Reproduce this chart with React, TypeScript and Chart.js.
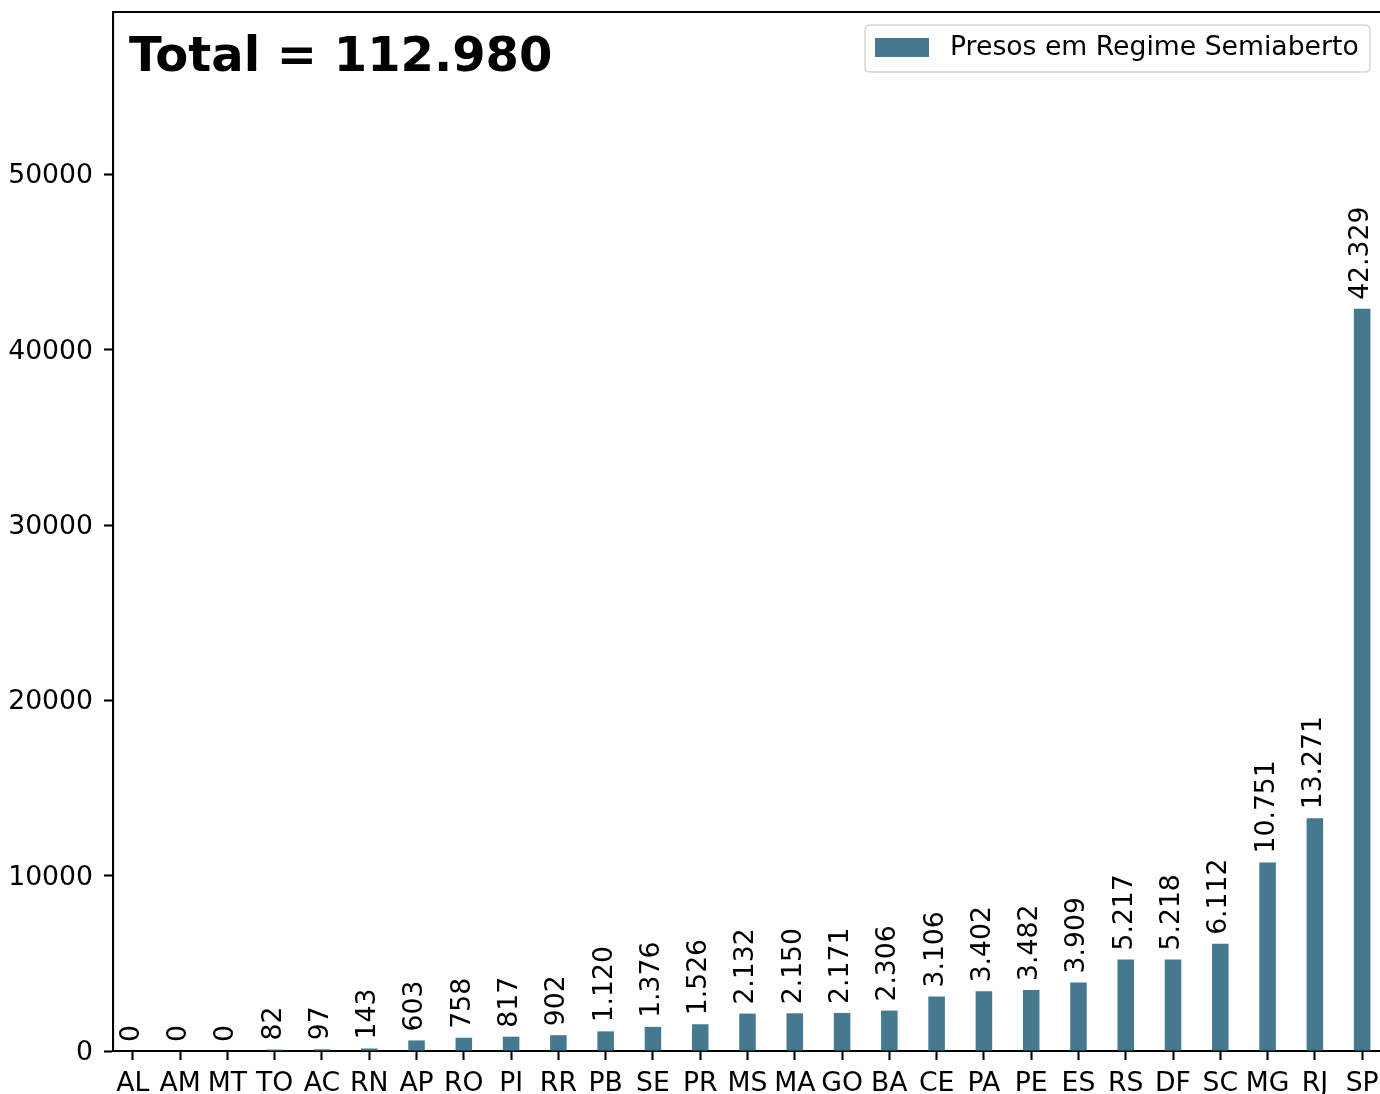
import React, { useEffect, useRef } from 'react';
import { Chart, registerables } from 'chart.js';

Chart.register(...registerables);

const categories = ['AL', 'AM', 'MT', 'TO', 'AC', 'RN', 'AP', 'RO', 'PI', 'RR', 'PB', 'SE', 'PR', 'MS', 'MA', 'GO', 'BA', 'CE', 'PA', 'PE', 'ES', 'RS', 'DF', 'SC', 'MG', 'RJ', 'SP'];
const values = [0, 0, 0, 82, 97, 143, 603, 758, 817, 902, 1120, 1376, 1526, 2132, 2150, 2171, 2306, 3106, 3402, 3482, 3909, 5217, 5218, 6112, 10751, 13271, 42329];
const yTicks = [0, 10000, 20000, 30000, 40000, 50000];
const seriesLabel = 'Presos em Regime Semiaberto';
const totalText = 'Total = 112.980';

const BAR_COLOR = '#46788f';
const FONT = 'DejaVu Sans';
const FS = 26.67;

const fmt = (v: number) => String(v).replace(/\B(?=(\d{3})+(?!\d))/g, '.');

const overlayPlugin = {
  id: 'overlay',
  afterDatasetsDraw(chart: any) {
    const ctx = chart.ctx;
    const meta = chart.getDatasetMeta(0);
    ctx.save();
    ctx.fillStyle = '#000';
    ctx.font = `${FS}px "${FONT}"`;
    ctx.textAlign = 'left';
    ctx.textBaseline = 'middle';
    meta.data.forEach((bar: any, i: number) => {
      ctx.save();
      ctx.translate(bar.x - 1, bar.y - 9);
      ctx.rotate(-Math.PI / 2);
      ctx.fillText(fmt(values[i]), 0, 0);
      ctx.restore();
    });
    ctx.restore();
  },
  afterDraw(chart: any) {
    const ctx = chart.ctx;
    const area = chart.chartArea;
    ctx.save();
    ctx.strokeStyle = '#000';
    ctx.lineWidth = 2.1;
    ctx.beginPath();
    ctx.moveTo(area.left - 1, area.top);
    ctx.lineTo(area.right + 1, area.top);
    ctx.stroke();
    ctx.beginPath();
    ctx.moveTo(area.right, area.top);
    ctx.lineTo(area.right, area.bottom);
    ctx.stroke();

    ctx.fillStyle = '#000';
    ctx.font = `bold 48px "${FONT}"`;
    ctx.textAlign = 'left';
    ctx.textBaseline = 'alphabetic';
    ctx.fillText(totalText, 129, 71);

    const lx = 865, ly = 25, lw = 505, lh = 47, r = 5;
    ctx.beginPath();
    ctx.moveTo(lx + r, ly);
    ctx.lineTo(lx + lw - r, ly);
    ctx.quadraticCurveTo(lx + lw, ly, lx + lw, ly + r);
    ctx.lineTo(lx + lw, ly + lh - r);
    ctx.quadraticCurveTo(lx + lw, ly + lh, lx + lw - r, ly + lh);
    ctx.lineTo(lx + r, ly + lh);
    ctx.quadraticCurveTo(lx, ly + lh, lx, ly + lh - r);
    ctx.lineTo(lx, ly + r);
    ctx.quadraticCurveTo(lx, ly, lx + r, ly);
    ctx.closePath();
    ctx.fillStyle = 'rgba(255,255,255,0.8)';
    ctx.fill();
    ctx.strokeStyle = '#d6d6d6';
    ctx.lineWidth = 1.5;
    ctx.stroke();
    ctx.fillStyle = BAR_COLOR;
    ctx.fillRect(875, 38, 54, 19);
    ctx.fillStyle = '#000';
    ctx.font = `${FS}px "${FONT}"`;
    ctx.textBaseline = 'middle';
    ctx.fillText(seriesLabel, 950, 48);
    ctx.restore();
  },
};

export default function App() {
  const ref = useRef<HTMLCanvasElement | null>(null);

  useEffect(() => {
    if (!ref.current) return;
    const tickFont = { family: FONT, size: FS };
    const chart = new Chart(ref.current, {
      type: 'bar',
      data: {
        datasets: [
          {
            label: seriesLabel,
            data: values.map((v, i) => ({ x: i, y: v })),
            backgroundColor: BAR_COLOR,
            borderWidth: 0,
            barPercentage: 0.35,
            categoryPercentage: 1,
          },
        ],
      },
      options: {
        animation: false,
        responsive: false,
        devicePixelRatio: 1,
        layout: { padding: { top: 12, right: 18, left: 0, bottom: 0 } },
        plugins: {
          legend: { display: false },
          tooltip: { enabled: false },
          title: { display: false },
        },
        scales: {
          x: {
            type: 'linear',
            offset: false,
            min: -0.42,
            max: 26.42,
            afterBuildTicks: (s: any) => {
              s.ticks = categories.map((_, i) => ({ value: i }));
            },
            afterFit: (s: any) => {
              s.height = 43;
              s.paddingLeft = 0;
              s.paddingRight = 0;
            },
            ticks: {
              autoSkip: false,
              maxRotation: 0,
              minRotation: 0,
              color: '#000',
              font: tickFont,
              padding: 8,
              callback: (v: any) => categories[Math.round(Number(v))] ?? '',
            },
            grid: {
              display: true,
              offset: false,
              drawOnChartArea: false,
              drawTicks: true,
              tickLength: 9,
              tickWidth: 2.1,
              tickColor: '#000',
            },
            border: { display: true, color: '#000', width: 2.1 },
          },
          y: {
            type: 'linear',
            offset: false,
            min: 0,
            max: 42329 * 1.4,
            afterBuildTicks: (s: any) => {
              s.ticks = yTicks.map((v) => ({ value: v }));
            },
            afterFit: (s: any) => {
              s.width = 113;
              s.paddingTop = 0;
              s.paddingBottom = 0;
            },
            ticks: {
              color: '#000',
              font: tickFont,
              padding: 11,
              labelOffset: 2,
              callback: (v: any) => String(v),
            },
            grid: {
              display: true,
              offset: false,
              drawOnChartArea: false,
              drawTicks: true,
              tickLength: 9,
              tickWidth: 2.1,
              tickColor: '#000',
            },
            border: { display: true, color: '#000', width: 2.1 },
          },
        },
      },
      plugins: [overlayPlugin],
    } as any);
    return () => chart.destroy();
  }, []);

  return (
    <div style={{ position: 'absolute', left: 0, top: 0, width: 1380, height: 1094, overflow: 'hidden', background: '#fff' }}>
      <canvas ref={ref} width={1400} height={1094} style={{ width: 1400, height: 1094, display: 'block' }} />
    </div>
  );
}
